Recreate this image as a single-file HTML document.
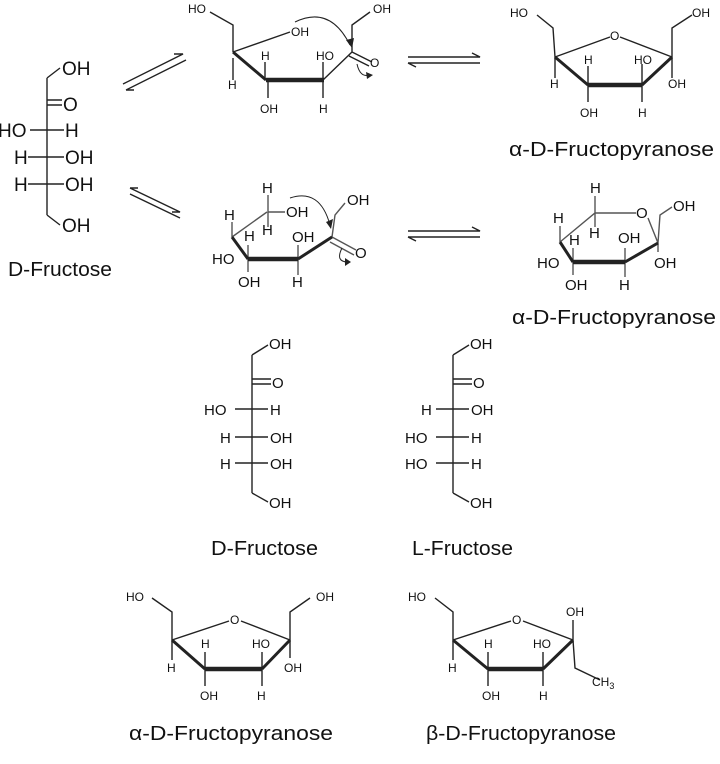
<!DOCTYPE html>
<html><head><meta charset="utf-8"><style>
html,body{margin:0;padding:0;background:#fff}
svg{display:block}
text{font-family:"Liberation Sans",sans-serif;fill:#111}
.s{font-size:12px}
.m{font-size:15px}
.f{font-size:19px}
.n{font-size:20px}
</style></head><body>
<svg width="720" height="764" viewBox="0 0 720 764" xmlns="http://www.w3.org/2000/svg">
<g stroke="#222" stroke-width="1.4" fill="none">
<path d="M47 78 L47 215 M47 78 L60 68 M47 215 L60 225 M47 100 L62 100 M47 105 L62 105 M30 130 L64 130 M28 157 L64 157 M28 184 L64 184"/>
<path d="M123 84 L183 54 L174 54 M126 90 L186 60 M126 90 L134 90"/>
<path d="M130 188 L180 212 L172 212 M130 194 L180 218 M130 188 L138 188" />
<path d="M210 12 L233 25 L233 52 M233 52 L290 32 M233 80 L233 58 M265 62 L265 80 M268 80 L268 98 M323 62 L323 80 M323 80 L323 98 M323 80 L352 52 M352 52 L352 25 L370 12 M352 52 L372 62 M349 56 L369 66"/>
<path d="M233 52 L266 80" stroke-width="3"/>
<path d="M266 80 L324 80" stroke-width="4.5"/>
<path d="M295 22 Q330 5 350 45" stroke-width="1"/>
<path d="M357 64 Q360 78 370 75" stroke-width="1"/>
<path d="M537 15 L553 28 L555 57 M555 57 L610 37 M620 37 L672 57 M672 57 L672 28 L692 15 M555 57 L555 78 M588 66 L588 85 M588 85 L588 102 M642 64 L642 85 M642 85 L642 102 M672 57 L672 78"/>
<path d="M555 57 L588 85" stroke-width="3"/>
<path d="M588 85 L642 85" stroke-width="4.5"/>
<path d="M642 85 L672 57" stroke-width="3"/>
<path d="M408 57 L480 57 L472 53 M408 63 L480 63 M408 63 L416 67"/>
<path d="M408 231 L480 231 L472 227 M408 237 L480 237 M408 237 L416 241"/>
<path d="M232 237 L267 212 M268 195 L268 227 M268 212 L285 212 M232 222 L232 237 M248 245 L248 259 M248 259 L248 272 M298 245 L298 259 M298 259 L298 275 M332 237 L335 215 L345 203 M332 237 L356 250 M330 242 L354 255" stroke="#555"/>
<path d="M232 237 L248 259" stroke-width="3"/>
<path d="M248 259 L298 259" stroke-width="4.5"/>
<path d="M298 259 L332 237" stroke-width="3"/>
<path d="M290 198 Q320 188 330 225" stroke-width="1"/>
<path d="M342 248 Q335 262 348 262" stroke-width="1"/>
<path d="M560 242 L595 213 L636 213 M648 218 L658 243 M658 243 L660 215 L672 207 M595 196 L595 227 M560 226 L560 242 M573 248 L573 262 M573 262 L573 275 M625 248 L625 262 M625 262 L625 277 M658 243 L658 252" stroke="#555"/>
<path d="M560 242 L573 262" stroke-width="3"/>
<path d="M573 262 L625 262" stroke-width="4.5"/>
<path d="M625 262 L658 243" stroke-width="3"/>
<path d="M252 355 L252 493 M252 355 L268 345 M252 493 L268 502 M252 379 L271 379 M252 384 L271 384 M235 409 L268 409 M235 437 L268 437 M235 463 L268 463"/>
<path d="M453 355 L453 493 M453 355 L469 345 M453 493 L469 502 M453 379 L472 379 M453 384 L472 384 M436 409 L469 409 M436 437 L469 437 M436 463 L469 463"/>
<path d="M152 598 L172 612 L172 640 M172 640 L229 621 M241 621 L290 640 M290 640 L290 612 L310 598 M172 640 L172 660 M205 652 L205 669 M205 669 L205 686 M262 652 L262 669 M262 669 L262 686 M290 640 L290 658"/>
<path d="M172 640 L205 669" stroke-width="3"/>
<path d="M205 669 L262 669" stroke-width="4.5"/>
<path d="M262 669 L290 640" stroke-width="3"/>
<path d="M435 598 L453 612 L453 640 M453 640 L511 621 M523 621 L573 640 M573 640 L573 620 M453 640 L453 660 M488 652 L488 669 M488 669 L488 686 M543 652 L543 669 M543 669 L543 686 M573 640 L575 668 L600 680"/>
<path d="M453 640 L488 669" stroke-width="3"/>
<path d="M488 669 L543 669" stroke-width="4.5"/>
<path d="M543 669 L573 640" stroke-width="3"/>
</g>
<g fill="#222"><path d="M346 40 L352 48 L354 38Z"/><path d="M366 72 L373 75 L367 79Z"/><path d="M326 222 L331 229 L333 219Z"/><path d="M345 258 L351 262 L345 266Z"/></g>
<text class="f" x="62" y="75">OH</text>
<text class="f" x="63" y="111">O</text>
<text class="f" x="-2" y="137">HO</text><text class="f" x="65" y="137">H</text>
<text class="f" x="14" y="164">H</text><text class="f" x="65" y="164">OH</text>
<text class="f" x="14" y="191">H</text><text class="f" x="65" y="191">OH</text>
<text class="f" x="62" y="232">OH</text>
<text class="n" x="8" y="276" textLength="104" lengthAdjust="spacingAndGlyphs">D-Fructose</text>

<text class="s" x="188" y="13">HO</text><text class="s" x="291" y="36">OH</text>
<text class="s" x="228" y="89">H</text><text class="s" x="261" y="60">H</text>
<text class="s" x="316" y="60">HO</text><text class="s" x="260" y="113">OH</text>
<text class="s" x="319" y="113">H</text><text class="s" x="370" y="67">O</text>
<text class="s" x="373" y="13">OH</text>

<text class="s" x="510" y="17">HO</text><text class="s" x="692" y="17">OH</text>
<text class="s" x="610" y="40">O</text>
<text class="s" x="550" y="88">H</text><text class="s" x="584" y="64">H</text>
<text class="s" x="634" y="64">HO</text><text class="s" x="580" y="117">OH</text>
<text class="s" x="638" y="117">H</text><text class="s" x="668" y="88">OH</text>
<text class="n" x="509" y="156" textLength="205" lengthAdjust="spacingAndGlyphs">α-D-Fructopyranose</text>

<text class="m" x="262" y="193">H</text><text class="m" x="286" y="217">OH</text>
<text class="m" x="262" y="235">H</text><text class="m" x="224" y="220">H</text>
<text class="m" x="244" y="241">H</text><text class="m" x="212" y="264">HO</text>
<text class="m" x="238" y="287">OH</text><text class="m" x="292" y="242">OH</text>
<text class="m" x="292" y="287">H</text><text class="m" x="355" y="258">O</text>
<text class="m" x="347" y="205">OH</text>

<text class="m" x="590" y="193">H</text><text class="m" x="636" y="218">O</text>
<text class="m" x="673" y="211">OH</text><text class="m" x="553" y="223">H</text>
<text class="m" x="569" y="245">H</text><text class="m" x="589" y="238">H</text>
<text class="m" x="618" y="243">OH</text><text class="m" x="537" y="268">HO</text>
<text class="m" x="654" y="268">OH</text><text class="m" x="565" y="290">OH</text>
<text class="m" x="619" y="290">H</text>
<text class="n" x="512" y="324" textLength="204" lengthAdjust="spacingAndGlyphs">α-D-Fructopyranose</text>

<text class="m" x="269" y="349">OH</text><text class="m" x="272" y="388">O</text>
<text class="m" x="204" y="415">HO</text><text class="m" x="270" y="415">H</text>
<text class="m" x="220" y="443">H</text><text class="m" x="270" y="443">OH</text>
<text class="m" x="220" y="469">H</text><text class="m" x="270" y="469">OH</text>
<text class="m" x="269" y="508">OH</text>
<text class="n" x="211" y="555" textLength="107" lengthAdjust="spacingAndGlyphs">D-Fructose</text>

<text class="m" x="470" y="349">OH</text><text class="m" x="473" y="388">O</text>
<text class="m" x="421" y="415">H</text><text class="m" x="471" y="415">OH</text>
<text class="m" x="405" y="443">HO</text><text class="m" x="471" y="443">H</text>
<text class="m" x="405" y="469">HO</text><text class="m" x="471" y="469">H</text>
<text class="m" x="470" y="508">OH</text>
<text class="n" x="412" y="555" textLength="101" lengthAdjust="spacingAndGlyphs">L-Fructose</text>

<text class="s" x="126" y="601">HO</text><text class="s" x="316" y="601">OH</text>
<text class="s" x="230" y="624">O</text>
<text class="s" x="167" y="672">H</text><text class="s" x="201" y="648">H</text>
<text class="s" x="252" y="648">HO</text><text class="s" x="200" y="700">OH</text>
<text class="s" x="257" y="700">H</text><text class="s" x="284" y="672">OH</text>
<text class="n" x="129" y="740" textLength="204" lengthAdjust="spacingAndGlyphs">α-D-Fructopyranose</text>

<text class="s" x="408" y="601">HO</text><text class="s" x="566" y="616">OH</text>
<text class="s" x="512" y="624">O</text>
<text class="s" x="448" y="672">H</text><text class="s" x="484" y="648">H</text>
<text class="s" x="533" y="648">HO</text><text class="s" x="482" y="700">OH</text>
<text class="s" x="539" y="700">H</text><text class="s" x="592" y="686">CH<tspan font-size="9" dy="3">3</tspan></text>
<text class="n" x="426" y="740" textLength="190" lengthAdjust="spacingAndGlyphs">β-D-Fructopyranose</text>
</svg>
</body></html>
